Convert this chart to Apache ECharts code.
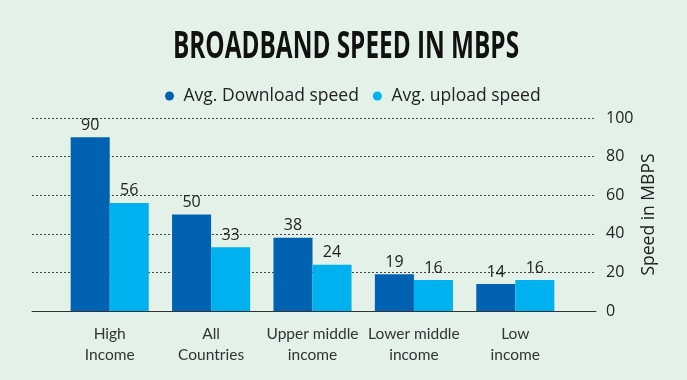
<!DOCTYPE html>
<html><head><meta charset="utf-8">
<script src="https://cdn.jsdelivr.net/npm/echarts@6/dist/echarts.min.js"></script>
<style>html,body{margin:0;padding:0;background:#e3f1e8;}#c{width:687px;height:380px;}</style>
</head><body><div id="c"></div>
<script>
const categories = ['High\nIncome', 'All\nCountries', 'Upper middle\nincome', 'Lower middle\nincome', 'Low\nincome'];
const downloadSpeed = [90, 50, 38, 19, 14];
const uploadSpeed = [56, 33, 24, 16, 16];
const seriesNames = ['Avg. Download speed', 'Avg. upload speed'];
const titleText = 'BROADBAND SPEED IN MBPS';
const axisName = 'Speed in MBPS';

const chart = echarts.init(document.getElementById('c'));
const font = '"Open Sans", "Noto Sans", sans-serif';
const narrow = 'Lato, "Liberation Sans", sans-serif';
chart.setOption({
  backgroundColor: '#e3f1e8',
  animation: false,
  graphic: [{
    type: 'text', x: 346, y: 47, scaleX: 0.64,
    style: { text: titleText, align: 'center', verticalAlign: 'middle',
      font: 'bold 38px "Open Sans", "DejaVu Sans", sans-serif', fill: '#111' }
  }],
  legend: {
    top: 82, left: 160, itemGap: 14, icon: 'circle', itemWidth: 9, itemHeight: 9,
    formatter: ' {name}',
    textStyle: { fontFamily: font, fontSize: 17.5, color: '#222' }
  },
  grid: [
    { left: 32, right: 91, top: 118, bottom: 69 },
    { left: 59, right: 121, top: 118, bottom: 69 }
  ],
  xAxis: [
    { type: 'category', gridIndex: 0, data: [''],
      axisLine: { lineStyle: { color: '#333', width: 1 } },
      axisTick: { show: false }, axisLabel: { show: false } },
    { type: 'category', gridIndex: 1, data: categories,
      axisLine: { show: false }, axisTick: { show: false },
      axisLabel: { fontFamily: narrow, fontSize: 15.5, color: '#333', lineHeight: 21, margin: 12, interval: 0 } }
  ],
  yAxis: [
    { type: 'value', gridIndex: 0, position: 'right', min: 0, max: 100, interval: 20,
      name: axisName, nameLocation: 'middle', nameGap: 44, nameRotate: 90, nameMoveOverlap: false,
      nameTextStyle: { fontFamily: font, fontSize: 17.5, color: '#222' },
      axisLine: { show: false }, axisTick: { show: false },
      axisLabel: { fontFamily: font, fontSize: 16, color: '#222', margin: 10 },
      splitLine: { lineStyle: { type: [2, 2], color: '#444', width: 1 } } },
    { type: 'value', gridIndex: 1, min: 0, max: 100, interval: 20, show: false,
      splitLine: { show: false } }
  ],
  series: [
    { name: seriesNames[0], type: 'bar', xAxisIndex: 1, yAxisIndex: 1, data: downloadSpeed, barGap: '0%', barCategoryGap: '23%',
      itemStyle: { color: '#0062b1' },
      label: { show: true, position: 'top', fontFamily: font, fontSize: 16, color: '#222', distance: 4 } },
    { name: seriesNames[1], type: 'bar', xAxisIndex: 1, yAxisIndex: 1, data: uploadSpeed,
      itemStyle: { color: '#00b1ef' },
      label: { show: true, position: 'top', fontFamily: font, fontSize: 16, color: '#222', distance: 4 } }
  ]
});
</script></body></html>
